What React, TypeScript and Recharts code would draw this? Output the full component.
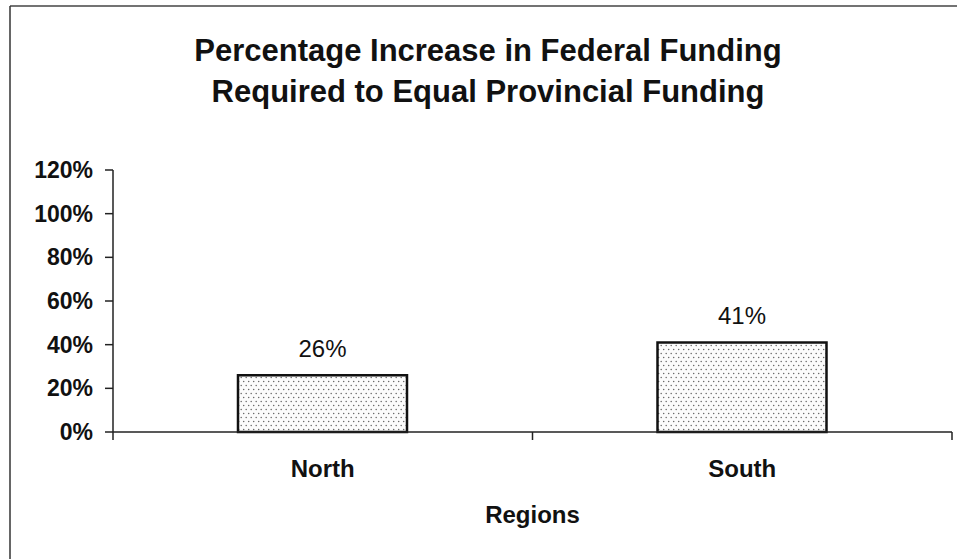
import React from 'react';
import { BarChart, Bar, XAxis, YAxis, LabelList } from 'recharts';

const categories = ['North', 'South'];
const increasePct = [26, 41];
const yTicks = [0, 20, 40, 60, 80, 100, 120];
const titleLines = ['Percentage Increase in Federal Funding', 'Required to Equal Provincial Funding'];
const xAxisTitle = 'Regions';

const data = categories.map((c, i) => ({ region: c, value: increasePct[i] }));

const FONT = '"Liberation Sans", Arial, Helvetica, sans-serif';
const X_TICK_SIZE = 8;
const X_TICK_MARGIN = 20;

const CategoryTick = (props: any) => {
  const { x, y, payload, index, visibleTicksCount } = props;
  const half = payload && typeof payload.offset === 'number' ? payload.offset : 0;
  const axisY = y - X_TICK_SIZE - X_TICK_MARGIN;
  const isLast = index === (visibleTicksCount ?? categories.length) - 1;
  return (
    <g>
      <line x1={x - half} x2={x - half} y1={axisY} y2={axisY + X_TICK_SIZE} stroke="#222" strokeWidth={1.5} />
      {isLast && <line x1={x + half} x2={x + half} y1={axisY} y2={axisY + X_TICK_SIZE} stroke="#222" strokeWidth={1.5} />}
      <text x={x} y={y} dy="0.71em" textAnchor="middle" fontFamily={FONT} fontSize={24} fontWeight="bold" fill="#111">
        {payload.value}
      </text>
    </g>
  );
};

export default function App() {
  return (
    <div style={{ position: 'absolute', left: 0, top: 0, width: 957, height: 559, background: '#fff', overflow: 'hidden' }}>
      <div style={{ position: 'absolute', left: 0, top: 0 }}>
        <BarChart width={957} height={559} data={data} margin={{ top: 170, right: 5, left: 0, bottom: 0 }}>
          <defs>
            <pattern id="dots" width="5" height="8" patternUnits="userSpaceOnUse">
              <rect width="5" height="8" fill="#fbfbfb" />
              <circle cx="1.2" cy="1.5" r="0.75" fill="#666" />
              <circle cx="3.7" cy="5.5" r="0.75" fill="#666" />
            </pattern>
          </defs>
          <XAxis
            dataKey="region"
            height={127}
            axisLine={{ stroke: '#222', strokeWidth: 1.5 }}
            tickLine={false}
            tickSize={X_TICK_SIZE}
            tickMargin={X_TICK_MARGIN}
            tick={<CategoryTick />}
            label={{ value: xAxisTitle, position: 'insideBottom', offset: 36, fontFamily: FONT, fontSize: 24, fontWeight: 'bold', fill: '#111' }}
          />
          <YAxis
            domain={[0, 120]}
            ticks={yTicks}
            width={113}
            tickSize={8}
            tickMargin={12}
            tickFormatter={(v: number) => `${v}%`}
            axisLine={{ stroke: '#222', strokeWidth: 1.5 }}
            tickLine={{ stroke: '#222', strokeWidth: 1.5 }}
            tick={{ fontFamily: FONT, fontSize: 23, fontWeight: 'bold', fill: '#111' }}
          />
          <Bar dataKey="value" barSize={169} fill="url(#dots)" stroke="#111" strokeWidth={2.5} isAnimationActive={false}>
            <LabelList
              dataKey="value"
              position="top"
              offset={18}
              formatter={(v: number) => `${v}%`}
              style={{ fontFamily: FONT, fontSize: 24, fill: '#111' }}
            />
          </Bar>
        </BarChart>
      </div>
      <svg width={957} height={559} style={{ position: 'absolute', left: 0, top: 0, pointerEvents: 'none' }}>
        <line x1={10} y1={6} x2={957} y2={6} stroke="#444" strokeWidth={1.5} />
        <line x1={10} y1={6} x2={10} y2={559} stroke="#333" strokeWidth={1.5} />
        <text x={488} y={61} textAnchor="middle" fontFamily={FONT} fontSize={31} fontWeight="bold" fill="#111">{titleLines[0]}</text>
        <text x={488} y={102} textAnchor="middle" fontFamily={FONT} fontSize={31} fontWeight="bold" fill="#111">{titleLines[1]}</text>
      </svg>
    </div>
  );
}
